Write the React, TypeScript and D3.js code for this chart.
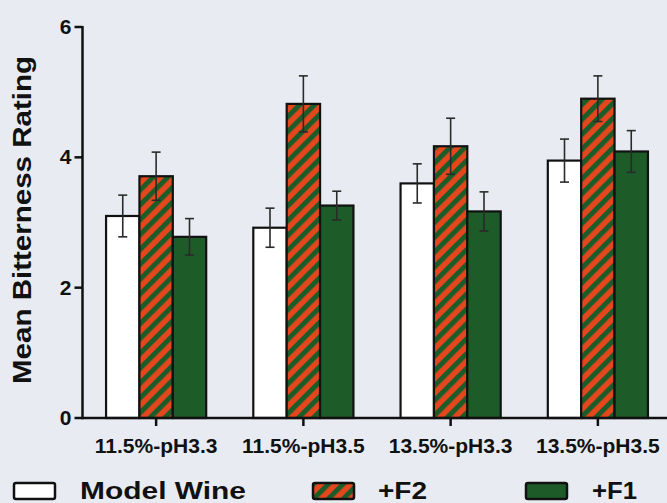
import React, { useEffect, useRef } from "react";
import * as d3 from "d3";

// groups along the x axis
const categories = ["11.5%-pH3.3", "11.5%-pH3.5", "13.5%-pH3.3", "13.5%-pH3.5"];
const seriesNames = ["Model Wine", "+F2", "+F1"];

// means
const modelWine = [3.1, 2.92, 3.6, 3.95];
const f2 = [3.71, 4.82, 4.17, 4.9];
const f1 = [2.78, 3.26, 3.17, 4.09];

// error (one SE) for each bar
const modelWineErr = [0.32, 0.3, 0.3, 0.33];
const f2Err = [0.37, 0.43, 0.43, 0.35];
const f1Err = [0.28, 0.22, 0.3, 0.32];

const yTicks = [0, 2, 4, 6];

const W = 667;
const H = 503;

const App = () => {
  const svgRef = useRef<SVGSVGElement>(null);

  useEffect(() => {
    document.body.style.margin = "0";
    const svg = d3.select(svgRef.current);
    svg.selectAll("*").remove();

    const orange = "#e4471d";
    const green = "#1d5c29";
    const font = "'Liberation Sans', Arial, sans-serif";

    // background
    svg.append("rect").attr("width", W).attr("height", H).attr("fill", "#e8ecf2");

    const defs = svg.append("defs");
    const pat = defs
      .append("pattern")
      .attr("id", "hatch")
      .attr("patternUnits", "userSpaceOnUse")
      .attr("width", 10.5)
      .attr("height", 10.5)
      .attr("patternTransform", "rotate(45)");
    pat.append("rect").attr("width", 10.5).attr("height", 10.5).attr("fill", orange);
    pat.append("rect").attr("width", 5).attr("height", 10.5).attr("fill", green);

    const x0 = 82.5;
    const yScale = d3.scaleLinear().domain([0, 6]).range([418, 27]);
    const xScale = d3
      .scaleBand<string>()
      .domain(categories)
      .range([x0, 671.5])
      .paddingInner(0.32)
      .paddingOuter(0.16);
    const xInner = d3
      .scaleBand<string>()
      .domain(seriesNames)
      .range([0, xScale.bandwidth()])
      .padding(0);

    const values = [modelWine, f2, f1];
    const errs = [modelWineErr, f2Err, f1Err];
    const fills = ["#ffffff", "url(#hatch)", green];

    const bars: { cat: string; s: string; v: number; e: number; fill: string }[] = [];
    categories.forEach((c, i) => {
      seriesNames.forEach((s, j) => {
        bars.push({ cat: c, s, v: values[j][i], e: errs[j][i], fill: fills[j] });
      });
    });

    const g = svg.append("g");
    g.selectAll(".bar")
      .data(bars)
      .enter()
      .append("rect")
      .attr("class", "bar")
      .attr("x", (d) => xScale(d.cat)! + xInner(d.s)!)
      .attr("y", (d) => yScale(d.v))
      .attr("width", xInner.bandwidth())
      .attr("height", (d) => yScale(0) - yScale(d.v))
      .attr("fill", (d) => d.fill)
      .attr("stroke", "#111")
      .attr("stroke-width", 2.2);

    // error bars
    const eb = g
      .selectAll(".err")
      .data(bars)
      .enter()
      .append("g")
      .attr("class", "err")
      .attr("stroke", "#2a2a2a")
      .attr("stroke-width", 1.6);
    const cx = (d: any) => xScale(d.cat)! + xInner(d.s)! + xInner.bandwidth() / 2;
    eb.append("line")
      .attr("x1", cx)
      .attr("x2", cx)
      .attr("y1", (d) => yScale(d.v + d.e))
      .attr("y2", (d) => yScale(d.v - d.e));
    [1, -1].forEach((sign) => {
      eb.append("line")
        .attr("x1", (d) => cx(d) - 4.5)
        .attr("x2", (d) => cx(d) + 4.5)
        .attr("y1", (d) => yScale(d.v + sign * d.e))
        .attr("y2", (d) => yScale(d.v + sign * d.e));
    });

    // y axis
    const axis = svg.append("g").attr("stroke", "#111").attr("stroke-width", 2.5);
    axis.append("line").attr("x1", x0).attr("x2", x0).attr("y1", yScale(6) - 1).attr("y2", yScale(0) + 1.2);
    axis
      .selectAll(".yt")
      .data(yTicks)
      .enter()
      .append("line")
      .attr("x1", x0 - 8)
      .attr("x2", x0)
      .attr("y1", (d) => yScale(d))
      .attr("y2", (d) => yScale(d));
    svg
      .selectAll(".ytl")
      .data(yTicks)
      .enter()
      .append("text")
      .attr("x", x0 - 11)
      .attr("y", (d) => yScale(d) + 7)
      .attr("text-anchor", "end")
      .style("font-family", font)
      .style("font-weight", "bold")
      .style("font-size", "21px")
      .attr("fill", "#111")
      .text((d) => d);

    // x axis
    axis.append("line").attr("x1", x0).attr("x2", W).attr("y1", yScale(0)).attr("y2", yScale(0));
    axis
      .selectAll(".xt")
      .data(categories)
      .enter()
      .append("line")
      .attr("x1", (d) => xScale(d)! + xScale.bandwidth() / 2)
      .attr("x2", (d) => xScale(d)! + xScale.bandwidth() / 2)
      .attr("y1", yScale(0))
      .attr("y2", yScale(0) + 8);
    svg
      .selectAll(".xtl")
      .data(categories)
      .enter()
      .append("text")
      .attr("x", (d) => xScale(d)! + xScale.bandwidth() / 2)
      .attr("y", 453)
      .attr("text-anchor", "middle")
      .style("font-family", font)
      .style("font-weight", "bold")
      .style("font-size", "21px")
      .attr("fill", "#111")
      .text((d) => d);

    // y label
    svg
      .append("text")
      .attr("transform", `translate(31, 220) rotate(-90)`)
      .attr("text-anchor", "middle")
      .attr("textLength", 328)
      .attr("lengthAdjust", "spacingAndGlyphs")
      .style("font-family", font)
      .style("font-weight", "bold")
      .style("font-size", "25px")
      .attr("fill", "#111")
      .text("Mean Bitterness Rating");

    // legend
    const legendX = [13, 312, 525];
    const legendTextX = [80, 378, 592];
    const legendTextLen = [166, 49, 45];
    const leg = svg
      .selectAll(".leg")
      .data(seriesNames)
      .enter()
      .append("g")
      .attr("transform", (_, i) => `translate(${legendX[i]}, 482)`);
    leg.append("rect")
      .attr("x", 1)
      .attr("y", 1)
      .attr("width", 41)
      .attr("height", 16)
      .attr("rx", 2)
      .attr("fill", (_, i) => fills[i])
      .attr("stroke", "#111")
      .attr("stroke-width", 2.5);
    leg.append("text")
      .attr("x", (_, i) => legendTextX[i] - legendX[i])
      .attr("y", 17)
      .attr("textLength", (_, i) => legendTextLen[i])
      .attr("lengthAdjust", "spacingAndGlyphs")
      .style("font-family", font)
      .style("font-weight", "bold")
      .style("font-size", "24px")
      .attr("fill", "#111")
      .text((d) => d);
  }, []);

  return <svg ref={svgRef} width={W} height={H} style={{ display: "block" }} />;
};

export default App;
